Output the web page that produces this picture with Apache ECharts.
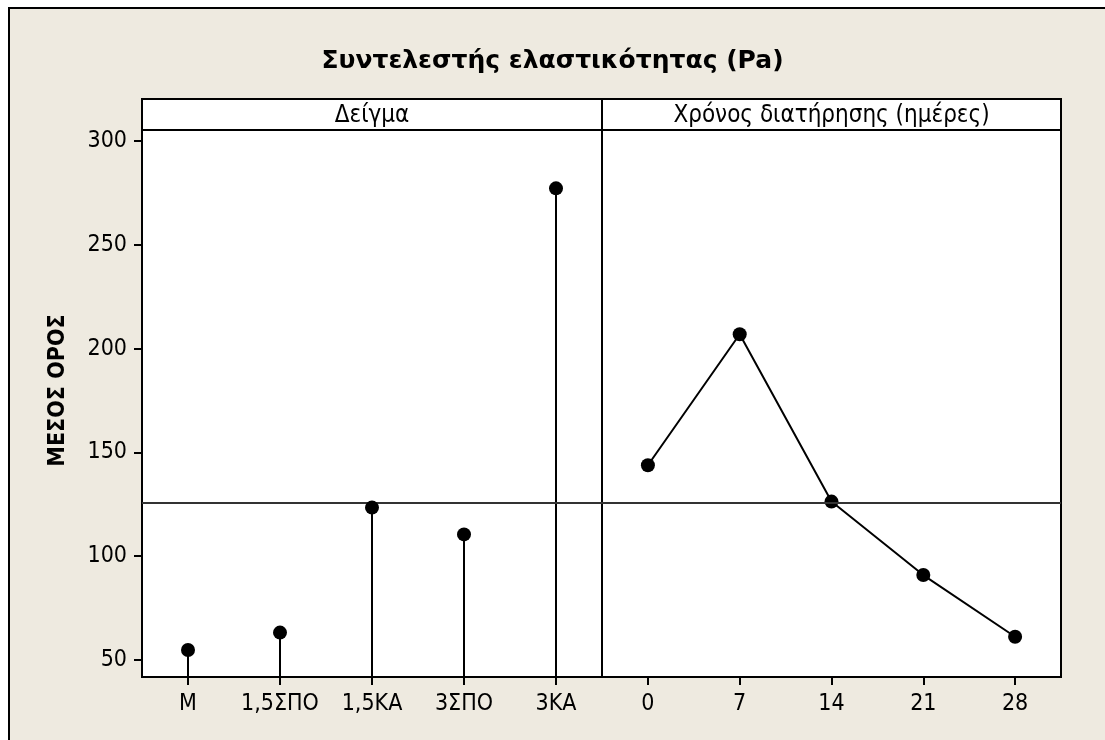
<!DOCTYPE html>
<html>
<head>
<meta charset="utf-8">
<script src="https://cdn.jsdelivr.net/npm/echarts@6/dist/echarts.min.js"></script>
<style>
  html, body { margin: 0; padding: 0; background: #ffffff; }
  #chart { width: 1105px; height: 740px; }
</style>
</head>
<body>
<div id="chart"></div>
<script>
// Main effects: mean elastic modulus per factor level
const sampleLevels = ['M', '1,5ΣΠΟ', '1,5ΚΑ', '3ΣΠΟ', '3ΚΑ'];
const sampleMeans = [54.8, 63.2, 123.4, 110.5, 277.2];
const dayLevels = ['0', '7', '14', '21', '28'];
const dayMeans = [143.8, 206.9, 126.3, 90.9, 61.2];
const yTickValues = [50, 100, 150, 200, 250, 300];
const grandMean = 125.8;

const titleText = 'Συντελεστής ελαστικότητας (Pa)';
const yTitle = 'ΜΕΣΟΣ ΟΡΟΣ';
const panelTitles = ['Δείγμα', 'Χρόνος διατήρησης (ημέρες)'];

const FONT = "'DejaVu Sans Condensed', 'DejaVu Sans', sans-serif";
const BG = '#EEEAE0';
const Y_MIN = 41.8, Y_MAX = 305.3;

const panels = [
  { left: 142, width: 460 },
  { left: 602, width: 459 }
];
const plotTop = 130, plotHeight = 547, stripTop = 99;

const chart = echarts.init(document.getElementById('chart'), null, { renderer: 'canvas' });

const refLine = {
  silent: true,
  symbol: 'none',
  label: { show: false },
  lineStyle: { color: '#333333', width: 2, type: 'solid' },
  data: [{ yAxis: grandMean }]
};

const xAxisBase = (idx, cats) => ({
  type: 'category',
  gridIndex: idx,
  data: cats,
  boundaryGap: true,
  axisLine: { show: false },
  axisTick: { show: true, alignWithLabel: true, interval: 0, length: 8, lineStyle: { color: '#000', width: 2 } },
  axisLabel: { color: '#000', fontFamily: FONT, fontSize: 23, margin: 16, interval: 0 },
  splitLine: { show: false }
});

chart.setOption({
  animation: false,
  backgroundColor: 'transparent',
  title: {
    text: titleText,
    left: 'center',
    top: 44,
    textStyle: { fontFamily: "'DejaVu Sans', sans-serif", fontWeight: 'bold', fontSize: 25, color: '#000' }
  },
  graphic: [
    // outer panel with beige fill
    { type: 'rect', z: -100, shape: { x: 9, y: 8, width: 1200, height: 800 },
      style: { fill: BG, stroke: '#000', lineWidth: 2 } },
    // facet strips
    { type: 'rect', z: 10, shape: { x: panels[0].left, y: stripTop, width: panels[0].width, height: plotTop - stripTop },
      style: { fill: '#fff', stroke: '#000', lineWidth: 2 } },
    { type: 'rect', z: 10, shape: { x: panels[1].left, y: stripTop, width: panels[1].width, height: plotTop - stripTop },
      style: { fill: '#fff', stroke: '#000', lineWidth: 2 } },
    { type: 'text', z: 11, x: panels[0].left + panels[0].width / 2, y: stripTop + (plotTop - stripTop) / 2 + 1,
      style: { text: panelTitles[0], font: "24px " + FONT, fill: '#000', align: 'center', verticalAlign: 'middle' } },
    { type: 'text', z: 11, x: panels[1].left + panels[1].width / 2, y: stripTop + (plotTop - stripTop) / 2 + 1,
      style: { text: panelTitles[1], font: "24px " + FONT, fill: '#000', align: 'center', verticalAlign: 'middle' } }
  ],
  grid: panels.map(p => ({
    left: p.left, top: plotTop, width: p.width, height: plotHeight,
    show: true, backgroundColor: '#fff', borderColor: '#000', borderWidth: 2,
    containLabel: false
  })),
  xAxis: [xAxisBase(0, sampleLevels), xAxisBase(1, dayLevels)],
  yAxis: [
    {
      type: 'value', gridIndex: 0, min: Y_MIN, max: Y_MAX,
      name: yTitle, nameLocation: 'middle', nameRotate: 90, nameGap: 72,
      nameTextStyle: { fontFamily: FONT, fontWeight: 'bold', fontSize: 23, color: '#000', padding: [0, 0, 0, 26] },
      axisLine: { show: false },
      axisTick: { show: true, length: 8, customValues: yTickValues, lineStyle: { color: '#000', width: 2 } },
      axisLabel: { color: '#000', fontFamily: FONT, fontSize: 23, margin: 15, customValues: yTickValues },
      splitLine: { show: false }
    },
    {
      type: 'value', gridIndex: 1, min: Y_MIN, max: Y_MAX,
      axisLine: { show: false }, axisTick: { show: false }, axisLabel: { show: false },
      splitLine: { show: false }
    }
  ],
  series: [
    {
      // stems from the panel floor up to each level mean
      type: 'bar', xAxisIndex: 0, yAxisIndex: 0,
      data: sampleMeans, barWidth: 2, clip: true,
      itemStyle: { color: '#000' }, silent: true,
      markLine: refLine
    },
    {
      type: 'scatter', xAxisIndex: 0, yAxisIndex: 0,
      data: sampleMeans, symbol: 'circle', symbolSize: 14,
      itemStyle: { color: '#000', opacity: 1 }, z: 5
    },
    {
      type: 'line', xAxisIndex: 1, yAxisIndex: 1,
      data: dayMeans, symbol: 'circle', symbolSize: 14, showSymbol: true,
      lineStyle: { color: '#000', width: 2 },
      itemStyle: { color: '#000', opacity: 1 },
      markLine: refLine
    }
  ]
});
</script>
</body>
</html>
